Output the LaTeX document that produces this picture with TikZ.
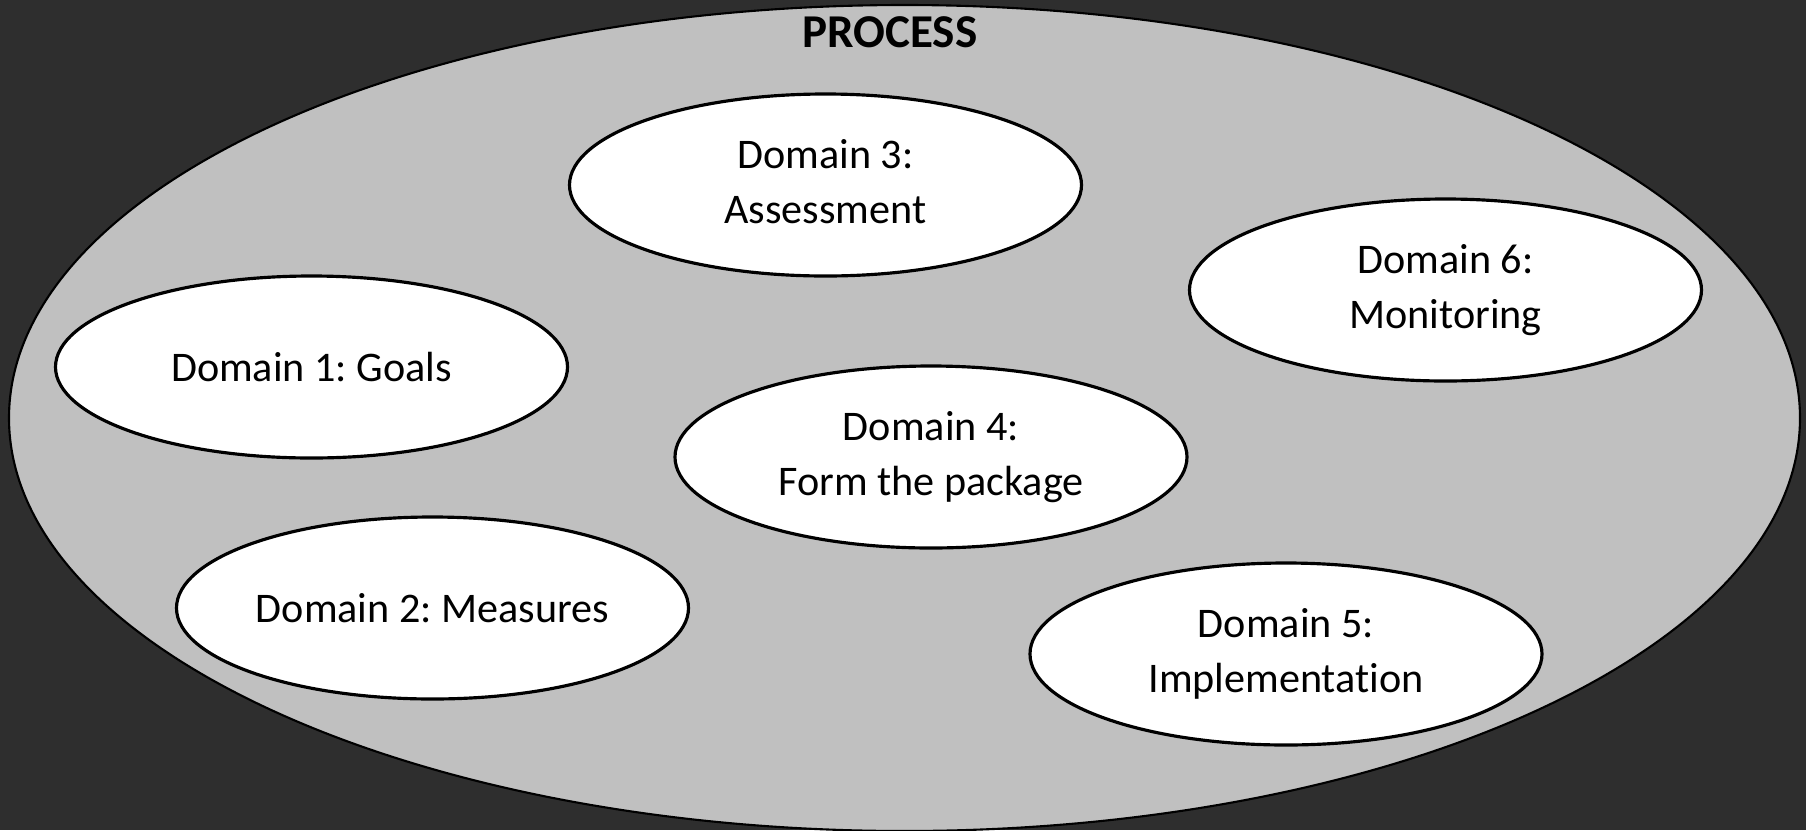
\documentclass[tikz,border=0pt]{standalone}
\usepackage{fontspec}
\setmainfont{Carlito}[Ligatures=NoCommon]
\frenchspacing
\usetikzlibrary{shapes}

\definecolor{slidebg}{HTML}{2E2E2E}
\definecolor{procfill}{HTML}{C0C0C0}

\begin{document}
\begin{tikzpicture}[
    process/.style={ellipse, draw, line width=0.6pt, fill=procfill, minimum width=17.91cm, minimum height=8.26cm, inner sep=0pt},
    domainbox/.style={ellipse, draw, line width=0.9pt, fill=white, minimum width=5.12cm, minimum height=1.82cm, inner sep=0pt, align=center, font=\fontsize{12}{15.6}\selectfont},
    twoline/.style={domainbox, text depth=1.8pt},
    heading/.style={font=\fontsize{13.4}{16}\selectfont\bfseries, inner sep=0pt}
]
    \clip (0,0) rectangle (18.06,8.30);
    \fill[slidebg] (0,0) rectangle (18.06,8.30);

    % outer process ellipse
    \node[process] (proc) at (9.045,4.12) {};
    \node[heading, anchor=base] (proctitle) at (8.90,7.83) {PROCESS};

    % the six domains
    \node[domainbox] (goals) at (3.115,4.63) {Domain 1: Goals};
    \node[domainbox] (measures) at (4.325,2.22) {Domain 2: Measures};
    \node[twoline] (assess) at (8.255,6.45) {Domain 3:\\Assessment};
    \node[twoline] (package) at (9.31,3.73) {Domain 4:\\Form the package};
    \node[twoline] (implement) at (12.86,1.76) {Domain 5:\\Implementation};
    \node[twoline] (monitor) at (14.455,5.40) {Domain 6:\\Monitoring};
\end{tikzpicture}
\end{document}
